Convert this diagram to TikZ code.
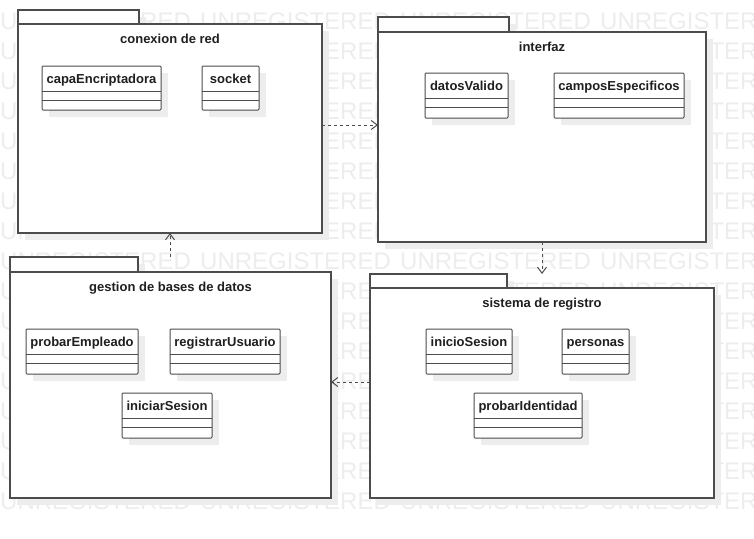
\documentclass[tikz,border=0pt]{standalone}
\usepackage{fontspec}
\setmainfont{Liberation Sans}
\usetikzlibrary{arrows.meta}
\definecolor{wmc}{gray}{0.93}
\definecolor{shd}{gray}{0.93}
\definecolor{lnc}{gray}{0.3}
\definecolor{txc}{gray}{0.12}

\newcommand{\umlclass}[6]{%
  \fill[shd] ({#2+7},{#3+7}) rectangle ({#4+7},{#5+7});
  \node[classbox, minimum width={#4-#2}, minimum height={#5-#3}] (#1) at (#2,#3) {};
  \node[lbl] (#1-name) at ({(#2+#4)/2},{#3+17}) {#6};
  \draw[sep] ({#2},{#3+25}) -- ({#4},{#3+25});
  \draw[sep] ({#2},{#3+34}) -- ({#4},{#3+34});
}
\newcommand{\umlpkg}[8]{%
  \fill[shd] ({#2+7},{#3+7}) rectangle ({#4+7},{#5+7});
  \fill[shd] ({#2+7},{#5+7}) rectangle ({#6+7},{#7+7});
  \node[pkgbox, minimum width={#4-#2}, minimum height={#5-#3}] (#1-tab) at (#2,#3) {};
  \node[pkgbox, minimum width={#6-#2}, minimum height={#7-#5}] (#1) at (#2,#5) {};
  \node[lbl] (#1-title) at ({(#2+#6)/2},{#5+19}) {#8};
}

\begin{document}
\begin{tikzpicture}[x=1pt,y=-1pt,
  wmtext/.style={anchor=west, inner sep=0pt, text=wmc, font=\fontsize{24}{26}\selectfont},
  classbox/.style={draw=lnc, fill=white, line width=1pt, rounded corners=1pt, anchor=north west, inner sep=0pt, outer sep=0pt},
  pkgbox/.style={draw=lnc, fill=white, line width=1.1pt, anchor=north west, inner sep=0pt, outer sep=0pt},
  sep/.style={draw=lnc, line width=1pt},
  lbl/.style={anchor=base, inner sep=0pt, text=txc, font=\bfseries\fontsize{13}{15}\selectfont},
  dep/.style={draw=lnc, line width=1pt, dash pattern=on 3pt off 3pt, -{Straight Barb[length=6pt,width=9pt]}}
]
\useasboundingbox[fill=white] (0,0) rectangle (754,538);

% watermark
\foreach \i in {0,...,16}{
  \foreach \j in {0,1,2,3}{
    \node[wmtext] (wm-\i-\j) at ({200*\j},{21+30*\i}) {UNREGISTERED};
  }
}

% packages
\umlpkg{conex}{18}{10}{139}{24}{322}{233}{conexion de red}
\umlpkg{interf}{378}{17}{509}{32}{706}{242}{interfaz}
\umlpkg{gest}{10}{257}{138}{272}{331}{498}{gestion de bases de datos}
\umlpkg{sist}{370}{274}{507}{288}{714}{498}{sistema de registro}

% classes
\umlclass{capa}{42}{66}{161}{110}{capaEncriptadora}
\umlclass{socket}{202}{66}{259}{110}{socket}
\umlclass{datos}{425}{73}{508}{118}{datosValido}
\umlclass{campos}{554}{73}{684}{118}{camposEspecificos}
\umlclass{probEmp}{26}{329}{138}{374}{probarEmpleado}
\umlclass{regUs}{170}{329}{280}{374}{registrarUsuario}
\umlclass{iniSes}{122}{393}{212}{438}{iniciarSesion}
\umlclass{inicioS}{426}{329}{512}{374}{inicioSesion}
\umlclass{pers}{562}{329}{629}{374}{personas}
\umlclass{probId}{474}{393}{582}{438}{probarIdentidad}

% dependencies
\coordinate (sistTop) at (542,274);
\coordinate (gestTop) at (170,257);
\draw[dep] (conex.east |- 0,125) -- (interf.west |- 0,125);
\draw[dep] (interf.south) -- (sistTop);
\draw[dep] (sist.west |- 0,382) -- (gest.east |- 0,382);
\draw[dep] (gestTop) -- (conex.south);
\end{tikzpicture}
\end{document}
